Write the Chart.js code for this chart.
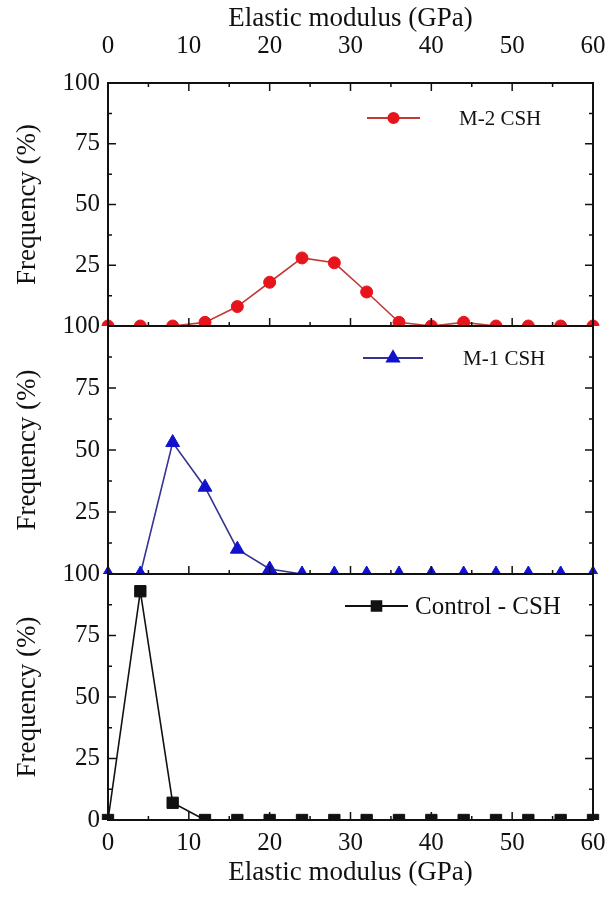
<!DOCTYPE html>
<html>
<head>
<meta charset="utf-8">
<script src="https://cdn.jsdelivr.net/npm/chart.js@4.4.0/dist/chart.umd.min.js"></script>
<style>
    html, body { margin: 0; padding: 0; background: #fff; }
    #wrap { position: relative; width: 609px; height: 911px; overflow: hidden; background: #fff; }
    #wrap canvas { position: absolute; left: 0; }
</style>
</head>
<body>
<div id="wrap">
    <canvas id="panelTop" width="609" height="345" style="top:0px"></canvas>
    <canvas id="panelMid" width="609" height="300" style="top:300px"></canvas>
    <canvas id="panelBot" width="609" height="363" style="top:548px"></canvas>
</div>
<script>
// ========================================
// Data
// ========================================
const modulus = [0, 4, 8, 12, 16, 20, 24, 28, 32, 36, 40, 44, 48, 52, 56, 60];
const m2Freq = [0, 0, 0, 1.5, 8, 18, 28, 26, 14, 1.5, 0, 1.5, 0, 0, 0, 0];
const m1Freq = [0, 0, 53, 35, 10, 2, 0, 0, 0, 0, 0, 0, 0, 0, 0, 0];
const controlFreq = [0, 93, 7, 0, 0, 0, 0, 0, 0, 0, 0, 0, 0, 0, 0, 0];
const xTickValues = [0, 10, 20, 30, 40, 50, 60];
const yTickValues = [0, 25, 50, 75, 100];

const FONT = "'Liberation Serif', 'DejaVu Serif', serif";
const X_TITLE = 'Elastic modulus (GPa)';
const Y_TITLE = 'Frequency (%)';

// inward ticks + frame drawn over the plot
const framePlugin = {
    id: 'frame',
    afterDatasetsDraw(chart) {
        const { ctx, chartArea: a, scales } = chart;
        const fo = chart.options.plugins.frame || {};
        const xs = scales.x, ys = scales.y;
        ctx.save();
        ctx.strokeStyle = '#111';
        ctx.lineWidth = 1.5;
        ctx.beginPath();
        // x ticks every 5, major every 10
        for (let v = 0; v <= 60; v += 5) {
            const px = xs.getPixelForValue(v);
            const len = v % 10 === 0 ? 8 : 4;
            ctx.moveTo(px, a.bottom);
            ctx.lineTo(px, a.bottom - len);
            if (fo.topTicks) {
                ctx.moveTo(px, a.top);
                ctx.lineTo(px, a.top + len);
            }
        }
        // y ticks every 12.5, major every 25
        for (let v = 0; v <= 100; v += 12.5) {
            const py = ys.getPixelForValue(v);
            const len = v % 25 === 0 ? 8 : 4;
            ctx.moveTo(a.left, py);
            ctx.lineTo(a.left + len, py);
            ctx.moveTo(a.right, py);
            ctx.lineTo(a.right - len, py);
        }
        ctx.stroke();
        ctx.lineWidth = 2;
        ctx.strokeRect(a.left, a.top, a.right - a.left, a.bottom - a.top);
        ctx.restore();
    },
    afterDraw(chart) {
        const lg = chart.options.plugins.frame && chart.options.plugins.frame.legend;
        if (!lg) return;
        const ds = chart.data.datasets[0];
        const ctx = chart.ctx;
        ctx.save();
        ctx.strokeStyle = ds.borderColor;
        ctx.lineWidth = 2;
        ctx.beginPath();
        ctx.moveTo(lg.x1, lg.y);
        ctx.lineTo(lg.x2, lg.y);
        ctx.stroke();
        ctx.fillStyle = ds.pointBackgroundColor;
        ctx.strokeStyle = ds.pointBorderColor;
        Chart.helpers.drawPoint(ctx, {
            pointStyle: ds.pointStyle,
            radius: ds.pointRadius * 0.85,
            rotation: 0,
            borderWidth: 1
        }, (lg.x1 + lg.x2) / 2, lg.y);
        ctx.fillStyle = '#111';
        ctx.font = lg.size + 'px ' + FONT;
        ctx.textAlign = 'left';
        ctx.textBaseline = 'middle';
        ctx.fillText(lg.text, lg.textX, lg.y + 1);
        ctx.restore();
    }
};

// keep the plot area fixed: no extra room for edge labels
function noSidePadding(s) {
    s.paddingLeft = 0;
    s.paddingRight = 0;
}

function makePanel(canvasId, cfg) {
    const canvas = document.getElementById(canvasId);
    const points = modulus.map((m, i) => ({ x: m, y: cfg.values[i] }));

    const scales = {
        x: {
            type: 'linear',
            min: 0,
            max: 60,
            position: 'bottom',
            display: cfg.bottomAxis,
            afterBuildTicks: s => { s.ticks = xTickValues.map(v => ({ value: v })); },
            afterFit: s => {
                noSidePadding(s);
                if (cfg.bottomAxis) s.height = cfg.bottomHeight;
            },
            grid: { display: false, drawTicks: false },
            border: { display: false },
            ticks: { color: '#111', font: { family: FONT, size: 25 }, padding: 8, maxRotation: 0 },
            title: {
                display: true,
                text: X_TITLE,
                color: '#111',
                font: { family: FONT, size: 27 },
                padding: { top: 0, bottom: 22 }
            }
        },
        y: {
            type: 'linear',
            min: 0,
            max: 100,
            afterBuildTicks: s => { s.ticks = yTickValues.map(v => ({ value: v })); },
            afterFit: s => {
                s.width = 108;
                s.paddingTop = 0;
                s.paddingBottom = 0;
            },
            grid: { display: false, drawTicks: false },
            border: { display: false },
            ticks: {
                color: '#111',
                font: { family: FONT, size: 25 },
                padding: 8,
                callback: v => (v === 0 && !cfg.showZero) ? '' : v
            },
            title: {
                display: true,
                text: Y_TITLE,
                color: '#111',
                font: { family: FONT, size: 27 },
                padding: { top: 12, bottom: 0 }
            }
        }
    };

    if (cfg.topAxis) {
        scales.x2 = {
            type: 'linear',
            min: 0,
            max: 60,
            position: 'top',
            afterBuildTicks: s => { s.ticks = xTickValues.map(v => ({ value: v })); },
            afterFit: s => {
                noSidePadding(s);
                s.height = 83;
            },
            grid: { display: false, drawTicks: false },
            border: { display: false },
            ticks: { color: '#111', font: { family: FONT, size: 25 }, padding: 22, maxRotation: 0 },
            title: {
                display: true,
                text: X_TITLE,
                color: '#111',
                font: { family: FONT, size: 27 },
                padding: { top: 3, bottom: 0 }
            }
        };
    }

    return new Chart(canvas.getContext('2d'), {
        type: 'line',
        data: {
            datasets: [{
                label: cfg.legend.text,
                data: points,
                xAxisID: 'x',
                yAxisID: 'y',
                borderColor: cfg.lineColor,
                borderWidth: 1.6,
                pointStyle: cfg.pointStyle,
                pointRadius: cfg.pointRadius,
                pointBackgroundColor: cfg.markerColor,
                pointBorderColor: cfg.markerColor,
                pointBorderWidth: 1,
                tension: 0,
                clip: { left: 10, right: 10, top: 10, bottom: 0 }
            }]
        },
        options: {
            responsive: false,
            animation: false,
            layout: { padding: cfg.padding },
            scales,
            plugins: {
                legend: { display: false },
                tooltip: { enabled: false },
                frame: { topTicks: cfg.topAxis, legend: cfg.legend }
            }
        },
        plugins: [framePlugin]
    });
}

// top panel: M-2 CSH
makePanel('panelTop', {
    values: m2Freq,
    topAxis: true,
    bottomAxis: false,
    showZero: false,
    padding: { top: 0, bottom: 19, left: 0, right: 16 },
    lineColor: '#c23a3a',
    markerColor: '#e8141c',
    pointStyle: 'circle',
    pointRadius: 6,
    legend: { text: 'M-2 CSH', x1: 367, x2: 420, y: 118, textX: 459, size: 21 }
});

// middle panel: M-1 CSH
makePanel('panelMid', {
    values: m1Freq,
    topAxis: false,
    bottomAxis: false,
    showZero: false,
    padding: { top: 26, bottom: 26, left: 0, right: 16 },
    lineColor: '#34348e',
    markerColor: '#1212cc',
    pointStyle: 'triangle',
    pointRadius: 8,
    legend: { text: 'M-1 CSH', x1: 363, x2: 423, y: 58, textX: 463, size: 21 }
});

// bottom panel: Control - CSH
makePanel('panelBot', {
    values: controlFreq,
    topAxis: false,
    bottomAxis: true,
    bottomHeight: 91,
    showZero: true,
    padding: { top: 26, bottom: 0, left: 0, right: 16 },
    lineColor: '#111',
    markerColor: '#111',
    pointStyle: 'rect',
    pointRadius: 8,
    legend: { text: 'Control - CSH', x1: 345, x2: 408, y: 58, textX: 415, size: 25 }
});
</script>
</body>
</html>
